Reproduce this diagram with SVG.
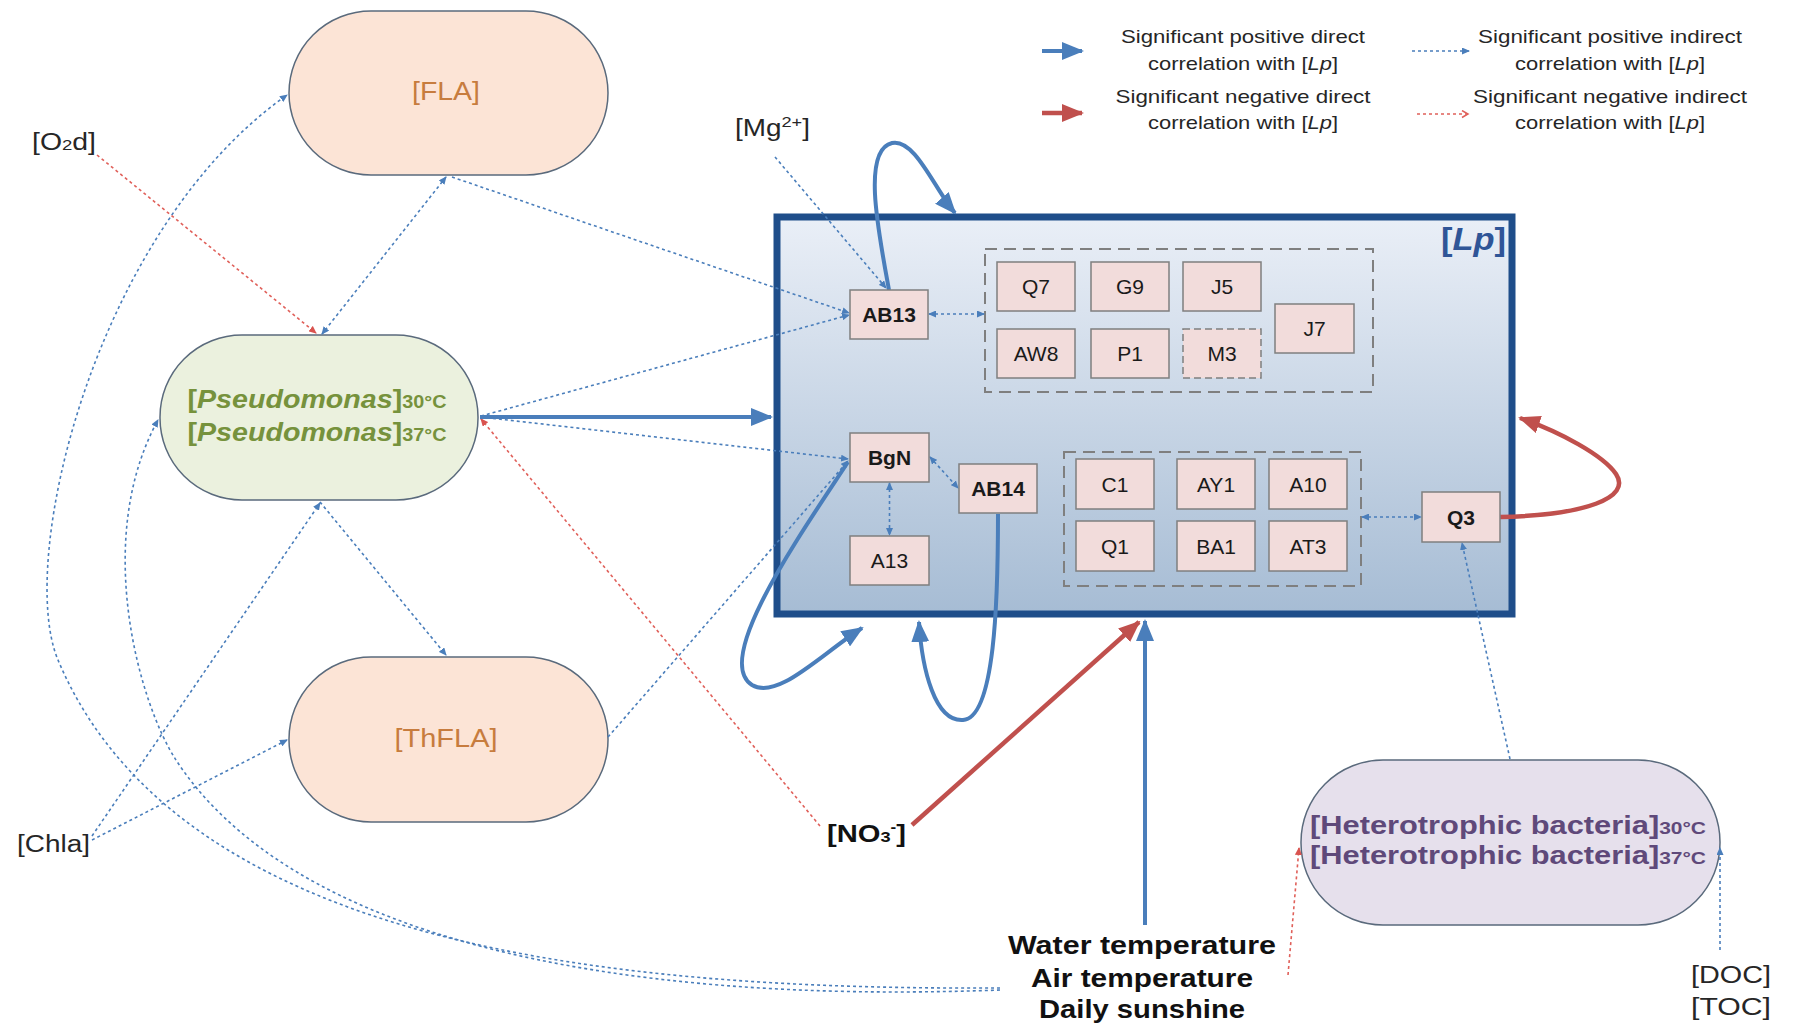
<svg xmlns="http://www.w3.org/2000/svg" width="1793" height="1029" viewBox="0 0 1793 1029">
<defs>
<linearGradient id="lpGrad" x1="0" y1="0" x2="0" y2="1">
<stop offset="0" stop-color="#EAEFF7"/>
<stop offset="1" stop-color="#A6BCD4"/>
</linearGradient>
<marker id="aBlue" markerUnits="userSpaceOnUse" markerWidth="22" markerHeight="18" viewBox="0 0 22 18" refX="20" refY="9" orient="auto"><path d="M0,0 L22,9 L0,18 z" fill="#4A7EBB"/></marker>
<marker id="aRed" markerUnits="userSpaceOnUse" markerWidth="22" markerHeight="18" viewBox="0 0 22 18" refX="20" refY="9" orient="auto"><path d="M0,0 L22,9 L0,18 z" fill="#C0504D"/></marker>
<marker id="sBlue" markerUnits="userSpaceOnUse" markerWidth="8" markerHeight="7" viewBox="0 0 8 7" refX="7" refY="3.5" orient="auto-start-reverse"><path d="M0,0 L8,3.5 L0,7 z" fill="#4A7EBB"/></marker>
<marker id="sRed" markerUnits="userSpaceOnUse" markerWidth="8" markerHeight="7" viewBox="0 0 8 7" refX="7" refY="3.5" orient="auto"><path d="M0,0 L8,3.5 L0,7 z" fill="#D9534F"/></marker>
<marker id="oRed" markerUnits="userSpaceOnUse" markerWidth="9" markerHeight="9" viewBox="0 0 9 9" refX="7" refY="4.5" orient="auto"><path d="M1,1 L7,4.5 L1,8" fill="none" stroke="#E0605A" stroke-width="1.5"/></marker>
</defs>
<style>
text{font-family:"Liberation Sans",Arial,sans-serif;}
.stad{stroke:#5A6A7C;stroke-width:1.5}
.box{fill:#F2DCDB;stroke:#7F7F7F;stroke-width:1.5}
.bt{font-size:21px;fill:#1A1A1A;text-anchor:middle}
.bold{font-weight:bold}
.grp{fill:none;stroke:#7F7F7F;stroke-width:2;stroke-dasharray:12 7}
.solidB{fill:none;stroke:#4A7EBB;stroke-width:4}
.solidR{fill:none;stroke:#C0504D;stroke-width:4.5}
.dotB{fill:none;stroke:#4A7EBB;stroke-width:1.6;stroke-dasharray:3 3}
.dotR{fill:none;stroke:#E0605A;stroke-width:1.6;stroke-dasharray:3 3}
.lbl{font-size:23px;fill:#262626}
.leg{font-size:19px;fill:#262626;text-anchor:middle}
</style>
<rect width="1793" height="1029" fill="#FFFFFF"/>

<!-- Legend -->
<g id="legend">
<path d="M1042,51 L1082,51" class="solidB" stroke-width="5" marker-end="url(#aBlue)"/>
<path d="M1042,113 L1082,113" class="solidR" stroke-width="5" marker-end="url(#aRed)"/>
<path d="M1412,51 L1469,51" class="dotB" marker-end="url(#sBlue)"/>
<path d="M1417,114 L1468,114" class="dotR" marker-end="url(#oRed)"/>
<text class="leg" x="1243" y="43" textLength="244" lengthAdjust="spacingAndGlyphs">Significant positive direct</text>
<text class="leg" x="1243" y="70" textLength="190" lengthAdjust="spacingAndGlyphs">correlation with [<tspan font-style="italic">Lp</tspan>]</text>
<text class="leg" x="1243" y="103" textLength="255" lengthAdjust="spacingAndGlyphs">Significant negative direct</text>
<text class="leg" x="1243" y="129" textLength="190" lengthAdjust="spacingAndGlyphs">correlation with [<tspan font-style="italic">Lp</tspan>]</text>
<text class="leg" x="1610" y="43" textLength="264" lengthAdjust="spacingAndGlyphs">Significant positive indirect</text>
<text class="leg" x="1610" y="70" textLength="190" lengthAdjust="spacingAndGlyphs">correlation with [<tspan font-style="italic">Lp</tspan>]</text>
<text class="leg" x="1610" y="103" textLength="274" lengthAdjust="spacingAndGlyphs">Significant negative indirect</text>
<text class="leg" x="1610" y="129" textLength="190" lengthAdjust="spacingAndGlyphs">correlation with [<tspan font-style="italic">Lp</tspan>]</text>
</g>

<!-- Big nodes -->
<g id="FLA">
<rect class="stad" x="289" y="11" width="319" height="164" rx="82" ry="82" fill="#FCE4D6"/>
<text x="446" y="100" font-size="26" fill="#C77C3E" text-anchor="middle" textLength="68" lengthAdjust="spacingAndGlyphs">[FLA]</text>
</g>
<g id="Pseudomonas">
<rect class="stad" x="160" y="335" width="318" height="165" rx="82" ry="82" fill="#EBF1DE"/>
<text x="317" y="408" font-size="26" font-weight="bold" fill="#76923C" text-anchor="middle" textLength="259" lengthAdjust="spacingAndGlyphs">[<tspan font-style="italic">Pseudomonas</tspan>]<tspan font-size="18">30°C</tspan></text>
<text x="317" y="441" font-size="26" font-weight="bold" fill="#76923C" text-anchor="middle" textLength="259" lengthAdjust="spacingAndGlyphs">[<tspan font-style="italic">Pseudomonas</tspan>]<tspan font-size="18">37°C</tspan></text>
</g>
<g id="ThFLA">
<rect class="stad" x="289" y="657" width="319" height="165" rx="82" ry="82" fill="#FCE4D6"/>
<text x="446" y="747" font-size="26" fill="#C77C3E" text-anchor="middle" textLength="103" lengthAdjust="spacingAndGlyphs">[ThFLA]</text>
</g>
<g id="Heterotrophic">
<rect class="stad" x="1301" y="760" width="419" height="165" rx="82" ry="82" fill="#E6E0EC"/>
<text x="1508" y="834" font-size="25" font-weight="bold" fill="#5F497A" text-anchor="middle" textLength="396" lengthAdjust="spacingAndGlyphs">[Heterotrophic bacteria]<tspan font-size="17">30°C</tspan></text>
<text x="1508" y="864" font-size="25" font-weight="bold" fill="#5F497A" text-anchor="middle" textLength="396" lengthAdjust="spacingAndGlyphs">[Heterotrophic bacteria]<tspan font-size="17">37°C</tspan></text>
</g>
<g id="Lp">
<rect x="777" y="217" width="735" height="397" fill="url(#lpGrad)" stroke="#1F4E8A" stroke-width="7"/>
<text x="1506" y="250" font-size="32" font-weight="bold" fill="#2F5597" text-anchor="end" textLength="65" lengthAdjust="spacingAndGlyphs">[<tspan font-style="italic">Lp</tspan>]</text>
<rect class="grp" x="985" y="249" width="388" height="143"/>
<rect class="grp" x="1064" y="452" width="297" height="134"/>
</g>

<!-- Labels -->
<g id="O2d"><text class="lbl" x="32" y="150" textLength="64" lengthAdjust="spacingAndGlyphs">[O<tspan font-size="15">2</tspan>d]</text></g>
<g id="Mg"><text class="lbl" x="735" y="136" textLength="75" lengthAdjust="spacingAndGlyphs">[Mg<tspan font-size="15" dy="-9">2+</tspan><tspan dy="9">]</tspan></text></g>
<g id="Chla"><text class="lbl" x="17" y="852" textLength="73" lengthAdjust="spacingAndGlyphs">[Chla]</text></g>
<g id="NO3"><text x="827" y="842" font-size="24" font-weight="bold" fill="#111" textLength="79" lengthAdjust="spacingAndGlyphs">[NO<tspan font-size="15">3</tspan><tspan font-size="14" dy="-10">-</tspan><tspan dy="10">]</tspan></text></g>
<g id="Env">
<text x="1142" y="954" font-size="25" font-weight="bold" fill="#111" text-anchor="middle" textLength="268" lengthAdjust="spacingAndGlyphs">Water temperature</text>
<text x="1142" y="987" font-size="25" font-weight="bold" fill="#111" text-anchor="middle" textLength="222" lengthAdjust="spacingAndGlyphs">Air temperature</text>
<text x="1142" y="1018" font-size="25" font-weight="bold" fill="#111" text-anchor="middle" textLength="206" lengthAdjust="spacingAndGlyphs">Daily sunshine</text>
</g>
<g id="DOC_TOC">
<text class="lbl" x="1771" y="983" text-anchor="end" textLength="80" lengthAdjust="spacingAndGlyphs">[DOC]</text>
<text class="lbl" x="1771" y="1015" text-anchor="end" textLength="80" lengthAdjust="spacingAndGlyphs">[TOC]</text>
</g>

<!-- Connectors -->
<g id="connectors">
<path class="dotB" d="M1000,988 C620,990 180,950 58,660 C16,560 95,230 287,95" marker-end="url(#sBlue)"/>
<path class="dotB" d="M1000,990 C600,1005 290,935 176,760 C140,705 92,540 158,420" marker-end="url(#sBlue)"/>
<path class="dotR" d="M97,155 L316,333" marker-end="url(#sRed)"/>
<path class="dotB" d="M446,177 L322,334" marker-start="url(#sBlue)" marker-end="url(#sBlue)"/>
<path class="dotB" d="M452,177 L849,313" marker-end="url(#sBlue)"/>
<path class="dotB" d="M481,416 L849,315" marker-end="url(#sBlue)"/>
<path class="dotB" d="M481,417 L848,459" marker-end="url(#sBlue)"/>
<path class="dotR" d="M820,826 L481,419" marker-end="url(#sRed)"/>
<path class="dotB" d="M608,737 L848,461" marker-end="url(#sBlue)"/>
<path class="dotB" d="M320,502 L446,655" marker-end="url(#sBlue)"/>
<path class="dotB" d="M92,836 L320,503" marker-end="url(#sBlue)"/>
<path class="dotB" d="M92,840 L287,740" marker-end="url(#sBlue)"/>
<path class="dotB" d="M775,157 L886,288" marker-end="url(#sBlue)"/>
<path class="dotB" d="M929,314 L984,314" marker-start="url(#sBlue)" marker-end="url(#sBlue)"/>
<path class="dotB" d="M889.5,483 L889.5,535" marker-start="url(#sBlue)" marker-end="url(#sBlue)"/>
<path class="dotB" d="M930,457 L958,488" marker-start="url(#sBlue)" marker-end="url(#sBlue)"/>
<path class="dotB" d="M1362,517 L1421,517" marker-start="url(#sBlue)" marker-end="url(#sBlue)"/>
<path class="dotB" d="M1510,759 L1462,543" marker-end="url(#sBlue)"/>
<path class="dotB" d="M1720,950 L1720,848" marker-end="url(#sBlue)"/>
<path class="dotR" d="M1288,975 L1299,848" marker-end="url(#sRed)"/>
<path class="solidB" stroke-width="5" d="M480,417 L771,417" marker-end="url(#aBlue)"/>
<path class="solidB" d="M889,290 C878,230 862,150 892,143 C915,138 935,190 955,213" marker-end="url(#aBlue)"/>
<path class="solidB" d="M848,462 C800,535 712,660 752,685 C778,700 820,655 862,628" marker-end="url(#aBlue)"/>
<path class="solidB" d="M998,514 C998,600 995,718 963,720 C935,722 922,670 919,622" marker-end="url(#aBlue)"/>
<path class="solidB" d="M1145,925 L1145,621" marker-end="url(#aBlue)"/>
<path class="solidR" d="M912,825 L1139,622" marker-end="url(#aRed)"/>
<path class="solidR" d="M1500,517 C1585,515 1632,498 1616,474 C1603,455 1560,432 1520,418" marker-end="url(#aRed)"/>
</g>

<!-- Small nodes -->
<g id="AB13"><rect class="box" x="850" y="290" width="78" height="49"/><text class="bt bold" x="889" y="322">AB13</text></g>
<g id="Q7"><rect class="box" x="997" y="262" width="78" height="49"/><text class="bt" x="1036" y="294">Q7</text></g>
<g id="G9"><rect class="box" x="1091" y="262" width="78" height="49"/><text class="bt" x="1130" y="294">G9</text></g>
<g id="J5"><rect class="box" x="1183" y="262" width="78" height="49"/><text class="bt" x="1222" y="294">J5</text></g>
<g id="AW8"><rect class="box" x="997" y="329" width="78" height="49"/><text class="bt" x="1036" y="361">AW8</text></g>
<g id="P1"><rect class="box" x="1091" y="329" width="78" height="49"/><text class="bt" x="1130" y="361">P1</text></g>
<g id="M3"><rect class="box" x="1183" y="329" width="78" height="49" stroke-dasharray="7 4"/><text class="bt" x="1222" y="361">M3</text></g>
<g id="J7"><rect class="box" x="1275" y="304" width="79" height="49"/><text class="bt" x="1314.5" y="336">J7</text></g>
<g id="BgN"><rect class="box" x="850" y="433" width="79" height="49"/><text class="bt bold" x="889.5" y="465">BgN</text></g>
<g id="A13"><rect class="box" x="850" y="536" width="79" height="49"/><text class="bt" x="889.5" y="568">A13</text></g>
<g id="AB14"><rect class="box" x="959" y="464" width="78" height="49"/><text class="bt bold" x="998" y="496">AB14</text></g>
<g id="C1"><rect class="box" x="1076" y="459" width="78" height="50"/><text class="bt" x="1115" y="491.5">C1</text></g>
<g id="AY1"><rect class="box" x="1177" y="459" width="78" height="50"/><text class="bt" x="1216" y="491.5">AY1</text></g>
<g id="A10"><rect class="box" x="1269" y="459" width="78" height="50"/><text class="bt" x="1308" y="491.5">A10</text></g>
<g id="Q1"><rect class="box" x="1076" y="521" width="78" height="50"/><text class="bt" x="1115" y="553.5">Q1</text></g>
<g id="BA1"><rect class="box" x="1177" y="521" width="78" height="50"/><text class="bt" x="1216" y="553.5">BA1</text></g>
<g id="AT3"><rect class="box" x="1269" y="521" width="78" height="50"/><text class="bt" x="1308" y="553.5">AT3</text></g>
<g id="Q3"><rect class="box" x="1422" y="492" width="78" height="50"/><text class="bt bold" x="1461" y="524.5">Q3</text></g>
</svg>
